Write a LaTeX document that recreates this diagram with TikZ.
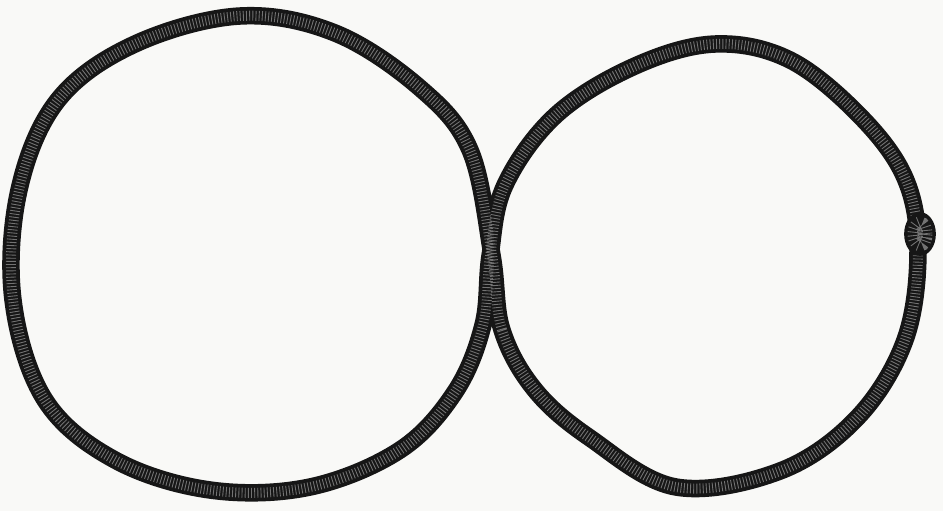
\documentclass[tikz,border=0pt]{standalone}
\usepackage{tikz}
\usetikzlibrary{positioning}
\definecolor{paper}{RGB}{249,249,247}
\definecolor{ropeink}{RGB}{22,22,22}
\tikzset{rope/.style = {draw=ropeink, line width=0.35cm, line join=round},
         ropetex/.style = {draw=white, line width=0.2cm, opacity=0.4,
                           dash pattern=on 0.5pt off 1.3pt},
         knot/.style = {fill=ropeink, draw=ropeink, line width=1pt}}

\begin{document}
\begin{tikzpicture}[x=0.02cm,y=-0.02cm]
      \useasboundingbox[fill=paper] (0,0) rectangle (943,511);
      \coordinate (knotc) at (920,234);
      \def\eightpath{plot[smooth cycle, tension=0.6] coordinates {
        (492,255) (502,330) (535,390) (590,438) (676,487) (780,471)
        (857,418) (905,340) (918,250) (905,178) (860,116) (790,60)
        (715,44) (635,66) (556,115) (505,185)
        (490,256) (483,325) (455,392) (400,450) (310,487) (210,490)
        (115,460) (45,400) (13,300) (19,190) (58,100) (135,44)
        (240,16) (335,33) (420,88) (470,150)}}
      \draw[rope] \eightpath;
      \draw[ropetex] \eightpath;
      \draw[knot] (knotc) ellipse [x radius=15, y radius=21];
      \draw[ropetex, line width=0.3cm] (knotc) ellipse [x radius=5, y radius=10];
    \end{tikzpicture}
\end{document}
